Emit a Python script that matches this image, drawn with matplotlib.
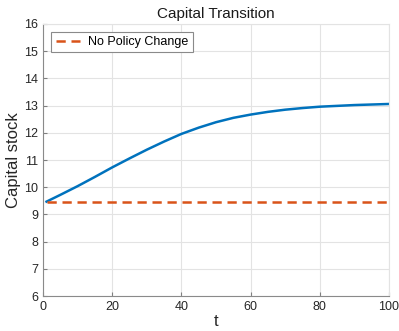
import matplotlib
matplotlib.use("Agg")
import matplotlib.pyplot as plt

plt.rcParams['font.family'] = ['Liberation Sans', 'DejaVu Sans']

t = [1, 5, 10, 15, 20, 25, 30, 35, 40, 45, 50, 55, 60, 65, 70, 75, 80, 85, 90, 95, 100]
capital = [9.47, 9.72, 10.04, 10.38, 10.73, 11.06, 11.38, 11.68, 11.96, 12.19, 12.39,
           12.55, 12.67, 12.77, 12.85, 12.91, 12.96, 12.99, 13.02, 13.04, 13.06]
no_policy_t = [1, 100]
no_policy = [9.47, 9.47]

fig = plt.figure(figsize=(3.99, 3.31), dpi=100)
ax = fig.add_axes([0.108, 0.1057, 0.867, 0.8218])

ax.plot(t, capital, color='#0072BD', lw=1.8, label='_nolegend_')
ax.plot(no_policy_t, no_policy, color='#D95319', lw=1.8, ls=(0, (3.7, 2.3)), label='No Policy Change')

ax.set_xlim(0, 100)
ax.set_ylim(6, 16)
ax.set_xticks([0, 20, 40, 60, 80, 100])
ax.set_yticks(range(6, 17))
ax.grid(True, color='#e3e3e3', lw=0.8)
ax.set_axisbelow(True)
ax.tick_params(direction='in', length=3, width=0.8, colors='#7f7f7f', labelcolor='#262626', labelsize=9)
for side in ['left', 'bottom']:
    ax.spines[side].set_color('#8a8a8a')
for side in ['top', 'right']:
    ax.spines[side].set_color('#e3e3e3')

ax.set_title('Capital Transition', fontsize=11, color='#1a1a1a', pad=4)
ax.set_xlabel('t', fontsize=12, color='#262626', labelpad=1)
ax.set_ylabel('Capital stock', fontsize=12, color='#262626', labelpad=2)

leg = ax.legend(loc='upper left', fontsize=9, fancybox=False, framealpha=1,
                edgecolor='#8a8a8a', handlelength=1.9, handletextpad=0.7,
                borderpad=0.35, bbox_to_anchor=(0.006, 0.995))
leg.get_frame().set_linewidth(0.8)

fig.savefig('out.png', dpi=100)
